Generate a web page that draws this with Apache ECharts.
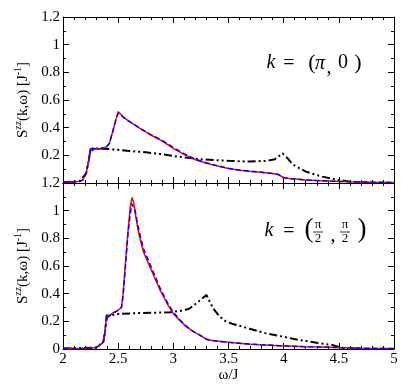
<!DOCTYPE html>
<html>
<head>
<meta charset="utf-8">
<script src="https://cdn.jsdelivr.net/npm/echarts@6/dist/echarts.min.js"></script>
<style>
  html, body { margin: 0; padding: 0; background: #fff; }
  #main { width: 411px; height: 390px; }
</style>
</head>
<body>
<div id="main"></div>
<script>
// top panel, k = (pi, 0)
const topOmega = [2.00, 2.10, 2.15, 2.18, 2.21, 2.235, 2.25, 2.265, 2.28, 2.30, 2.32, 2.35, 2.39, 2.42, 2.45, 2.48, 2.50, 2.52, 2.55, 2.60, 2.65, 2.70, 2.80, 2.90, 3.00, 3.10, 3.20, 3.30, 3.40, 3.50, 3.60, 3.70, 3.80, 3.90, 3.95, 4.00, 4.05, 4.20, 4.40, 4.60, 4.80, 5.00];
const topRed = [0.005, 0.008, 0.012, 0.022, 0.07, 0.17, 0.25, 0.232, 0.25, 0.245, 0.243, 0.252, 0.258, 0.285, 0.37, 0.46, 0.515, 0.50, 0.475, 0.445, 0.42, 0.393, 0.345, 0.303, 0.25, 0.205, 0.168, 0.143, 0.123, 0.105, 0.093, 0.084, 0.077, 0.069, 0.062, 0.038, 0.032, 0.022, 0.014, 0.009, 0.006, 0.004];
const topBlue = [0.005, 0.008, 0.012, 0.022, 0.07, 0.17, 0.25, 0.232, 0.25, 0.245, 0.243, 0.252, 0.258, 0.285, 0.37, 0.46, 0.505, 0.495, 0.473, 0.445, 0.42, 0.395, 0.348, 0.308, 0.256, 0.21, 0.172, 0.146, 0.125, 0.106, 0.094, 0.085, 0.077, 0.069, 0.062, 0.038, 0.032, 0.022, 0.014, 0.009, 0.006, 0.004];
const topBlackOmega = [2.00, 2.15, 2.21, 2.235, 2.25, 2.30, 2.42, 2.58, 2.75, 2.88, 3.03, 3.24, 3.50, 3.69, 3.85, 3.92, 3.99, 4.04, 4.08, 4.20, 4.35, 4.50, 4.60, 4.75, 5.00];
const topBlack = [0.005, 0.012, 0.07, 0.17, 0.25, 0.25, 0.245, 0.233, 0.222, 0.21, 0.192, 0.172, 0.16, 0.155, 0.16, 0.172, 0.214, 0.175, 0.135, 0.082, 0.046, 0.022, 0.01, 0.003, 0.0];

// bottom panel, k = (pi/2, pi/2)
const botOmega = [2.00, 2.20, 2.30, 2.34, 2.365, 2.38, 2.395, 2.41, 2.425, 2.45, 2.49, 2.53, 2.545, 2.566, 2.59, 2.61, 2.625, 2.64, 2.655, 2.68, 2.70, 2.73, 2.79, 2.88, 2.95, 3.00, 3.06, 3.12, 3.18, 3.24, 3.30, 3.35, 3.50, 3.70, 3.96, 4.20, 4.41, 4.70, 5.00];
const botRed = [0.003, 0.004, 0.01, 0.03, 0.05, 0.12, 0.25, 0.232, 0.24, 0.26, 0.275, 0.30, 0.40, 0.62, 0.86, 1.03, 1.095, 1.06, 0.98, 0.86, 0.79, 0.70, 0.59, 0.425, 0.32, 0.255, 0.205, 0.16, 0.125, 0.10, 0.07, 0.062, 0.048, 0.035, 0.024, 0.017, 0.012, 0.006, 0.003];
const botBlue = [0.003, 0.004, 0.01, 0.03, 0.05, 0.12, 0.25, 0.232, 0.24, 0.26, 0.275, 0.30, 0.39, 0.60, 0.84, 0.98, 1.05, 1.05, 0.995, 0.89, 0.82, 0.725, 0.61, 0.44, 0.33, 0.265, 0.21, 0.163, 0.127, 0.101, 0.071, 0.062, 0.048, 0.035, 0.024, 0.017, 0.012, 0.006, 0.003];
const botBlackOmega = [2.00, 2.30, 2.365, 2.38, 2.40, 2.42, 2.485, 2.70, 2.97, 3.10, 3.15, 3.24, 3.30, 3.36, 3.42, 3.48, 3.54, 3.70, 3.84, 4.00, 4.14, 4.30, 4.44, 4.50, 4.55, 4.70, 5.00];
const botBlack = [0.003, 0.01, 0.05, 0.12, 0.24, 0.24, 0.253, 0.26, 0.265, 0.28, 0.294, 0.35, 0.39, 0.294, 0.234, 0.197, 0.181, 0.145, 0.113, 0.088, 0.065, 0.045, 0.029, 0.015, 0.005, 0.001, 0.0];

const pair = (xs, ys) => xs.map((x, i) => [x, ys[i]]);

const FONT = '"Times New Roman", "Liberation Serif", "DejaVu Serif", serif';
const left = 63, right = 17, topY = 17, h = 166;

function xAx(grid, pos, showLabel) {
  return {
    type: 'value', gridIndex: grid, position: pos, min: 2, max: 5, interval: 0.5,
    axisLine: { show: true, onZero: false, lineStyle: { color: '#000', width: 1 } },
    axisTick: { show: true, inside: true, length: 6, lineStyle: { color: '#000' } },
    minorTick: { show: true, splitNumber: 5, length: 3, lineStyle: { color: '#000' } },
    splitLine: { show: false },
    axisLabel: {
      show: showLabel, color: '#000', fontFamily: FONT, fontSize: 15, margin: 3,
      formatter: v => String(+v.toFixed(1))
    }
  };
}
function yAx(grid, pos, showLabel, hideZero) {
  return {
    type: 'value', gridIndex: grid, position: pos, min: 0, max: 1.2, interval: 0.2,
    axisLine: { show: true, onZero: false, lineStyle: { color: '#000', width: 1 } },
    axisTick: { show: true, inside: true, length: 6, lineStyle: { color: '#000' } },
    minorTick: { show: true, splitNumber: 2, length: 3, lineStyle: { color: '#000' } },
    splitLine: { show: false },
    axisLabel: {
      show: showLabel, color: '#000', fontFamily: FONT, fontSize: 15, margin: 3,
      formatter: v => (hideZero && v === 0) ? '' : String(+v.toFixed(1))
    }
  };
}

const yName = {
  name: '{a|S}{b|zz}{a|(k,ω) [J}{b|-1}{a|]}',
  nameLocation: 'middle',
  nameGap: 30,
  nameTextStyle: {
    rich: {
      a: { fontFamily: FONT, fontSize: 15, color: '#000', lineHeight: 18 },
      b: { fontFamily: FONT, fontSize: 10, color: '#000', lineHeight: 10, verticalAlign: 'top' }
    }
  }
};

const yTopLeft = Object.assign(yAx(0, 'left', true, true), yName);
const yBotLeft = Object.assign(yAx(1, 'left', true, false), yName);
const xBot = Object.assign(xAx(1, 'bottom', true), {
  name: 'ω/J', nameLocation: 'middle', nameGap: 18,
  nameTextStyle: { fontFamily: FONT, fontSize: 15, color: '#000' }
});

function line(name, data, xi, yi, color, width, type, z) {
  return {
    name: name, type: 'line', xAxisIndex: xi, yAxisIndex: yi, data: data,
    showSymbol: false, symbol: 'none', z: z,
    lineStyle: { color: color, width: width, type: type }
  };
}
const dashDotDot = [8, 3, 2, 3, 2, 3];

function txt(x, y, s, size, italic) {
  return {
    type: 'text', x: x, y: y, z: 100,
    style: {
      text: s, fill: '#000', fontFamily: FONT, fontSize: size,
      fontStyle: italic ? 'italic' : 'normal', align: 'center', verticalAlign: 'middle'
    }
  };
}

const chart = echarts.init(document.getElementById('main'));
chart.setOption({
  animation: false,
  backgroundColor: '#fff',
  textStyle: { fontFamily: FONT },
  grid: [
    { left: left, right: right, top: topY, height: h },
    { left: left, right: right, top: topY + h, height: h }
  ],
  xAxis: [xAx(0, 'bottom', false), xAx(0, 'top', false), xBot, xAx(1, 'top', false)],
  yAxis: [yTopLeft, yAx(0, 'right', false, false), yBotLeft, yAx(1, 'right', false, false)],
  series: [
    line('top black', pair(topBlackOmega, topBlack), 0, 0, '#000', 2, dashDotDot, 2),
    line('top red', pair(topOmega, topRed), 0, 0, '#ff0000', 1.5, 'solid', 3),
    line('top blue', pair(topOmega, topBlue), 0, 0, '#0000ff', 1.5, [5, 3], 4),
    line('bottom black', pair(botBlackOmega, botBlack), 2, 2, '#000', 2, dashDotDot, 2),
    line('bottom red', pair(botOmega, botRed), 2, 2, '#ff0000', 1.5, 'solid', 3),
    line('bottom blue', pair(botOmega, botBlue), 2, 2, '#0000ff', 1.5, [5, 3], 4)
  ],
  graphic: [
    // k = (pi, 0)
    txt(271, 63, 'k', 20, true),
    txt(289, 64, '=', 20, false),
    txt(312, 63, '(', 22, false),
    txt(320, 64, 'π', 20, true),
    txt(329, 68, ',', 20, false),
    txt(343, 63, '0', 20, false),
    txt(358, 63, ')', 22, false),
    // k = (pi/2, pi/2)
    txt(269, 231, 'k', 20, true),
    txt(289, 232, '=', 20, false),
    txt(309, 230, '(', 27, false),
    txt(318, 225, 'π', 13, false),
    { type: 'line', z: 100, shape: { x1: 313, y1: 232, x2: 323, y2: 232 }, style: { stroke: '#000', lineWidth: 0.8 } },
    txt(318, 239, '2', 13, false),
    txt(333, 236, ',', 20, false),
    txt(345, 225, 'π', 13, false),
    { type: 'line', z: 100, shape: { x1: 340, y1: 232, x2: 350, y2: 232 }, style: { stroke: '#000', lineWidth: 0.8 } },
    txt(345, 239, '2', 13, false),
    txt(362, 230, ')', 27, false)
  ]
});
</script>
</body>
</html>
